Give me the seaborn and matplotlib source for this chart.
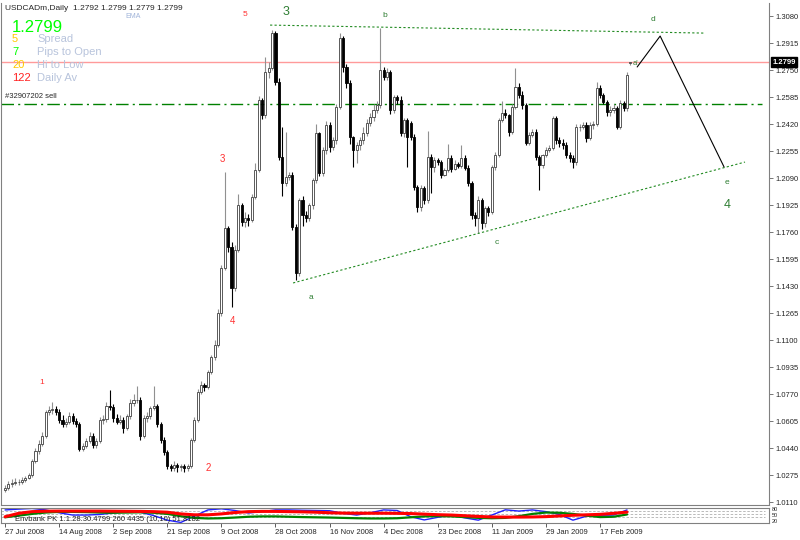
import numpy as np
import pandas as pd
import seaborn as sns
import matplotlib.pyplot as plt

# daily USDCAD candles, 27 Jul 2008 .. 27 Feb 2009
opens = [1.0185, 1.0196, 1.0221, 1.0227, 1.0233, 1.0233, 1.0245, 1.0257, 1.0276, 1.0361,
         1.0422, 1.0465, 1.0514, 1.0661, 1.0673, 1.0679, 1.0661, 1.0612, 1.0587, 1.0600,
         1.0636, 1.0606, 1.0587, 1.0435, 1.0453, 1.0483, 1.0514, 1.0459, 1.0483, 1.0612,
         1.0618, 1.0697, 1.0691, 1.0624, 1.0600, 1.0612, 1.0563, 1.0636, 1.0716, 1.0734,
         1.0734, 1.0514, 1.0624, 1.0636, 1.0685, 1.0697, 1.0587, 1.0490, 1.0416, 1.0331,
         1.0318, 1.0337, 1.0325, 1.0331, 1.0318, 1.0331, 1.0490, 1.0612, 1.0783, 1.0826,
         1.0813, 1.0905, 1.0997, 1.1070, 1.1266, 1.1541, 1.1785, 1.1669, 1.1418, 1.1651,
         1.1925, 1.1822, 1.1846, 1.1834, 1.1974, 1.2139, 1.2567, 1.2475, 1.2738, 1.2763,
         1.2976, 1.2677, 1.2219, 1.2060, 1.2097, 1.2109, 1.1791, 1.1510, 1.1956, 1.1864,
         1.1846, 1.1925, 1.2078, 1.2365, 1.2121, 1.2262, 1.2414, 1.2280, 1.2323, 1.2524,
         1.2946, 1.2769, 1.2671, 1.2341, 1.2262, 1.2292, 1.2323, 1.2365, 1.2427, 1.2463,
         1.2506, 1.2536, 1.2750, 1.2708, 1.2738, 1.2506, 1.2585, 1.2567, 1.2365, 1.2445,
         1.2427, 1.2341, 1.2035, 1.1913, 1.2029, 1.1956, 1.2219, 1.2158, 1.2200, 1.2188,
         1.2109, 1.2139, 1.2213, 1.2145, 1.2176, 1.2164, 1.2213, 1.2152, 1.2060, 1.1864,
         1.1846, 1.1956, 1.1815, 1.1907, 1.1883, 1.2158, 1.2231, 1.2445, 1.2488, 1.2475,
         1.2372, 1.2524, 1.2646, 1.2598, 1.2536, 1.2304, 1.2353, 1.2372, 1.2219, 1.2170,
         1.2231, 1.2262, 1.2274, 1.2457, 1.2323, 1.2304, 1.2292, 1.2231, 1.2213, 1.2188,
         1.2402, 1.2402, 1.2414, 1.2335, 1.2414, 1.2420, 1.2640, 1.2598, 1.2555, 1.2494,
         1.2506, 1.2518, 1.2402, 1.2549, 1.2518, 1.2792]
highs = [1.0215, 1.0240, 1.0250, 1.0255, 1.0250, 1.0262, 1.0270, 1.0290, 1.0375, 1.0440,
         1.0490, 1.0540, 1.0670, 1.0700, 1.0722, 1.0700, 1.0680, 1.0640, 1.0625, 1.0660,
         1.0655, 1.0625, 1.0600, 1.0470, 1.0500, 1.0540, 1.0530, 1.0500, 1.0630, 1.0640,
         1.0720, 1.0795, 1.0710, 1.0650, 1.0640, 1.0630, 1.0650, 1.0740, 1.0770, 1.0820,
         1.0750, 1.0640, 1.0660, 1.0700, 1.0820, 1.0710, 1.0600, 1.0510, 1.0430, 1.0345,
         1.0360, 1.0350, 1.0345, 1.0345, 1.0340, 1.0500, 1.0630, 1.0800, 1.0850, 1.0835,
         1.0920, 1.1010, 1.1100, 1.1290, 1.1560, 1.2127, 1.1800, 1.1700, 1.1680, 1.1990,
         1.1940, 1.1880, 1.1870, 1.1995, 1.2180, 1.2590, 1.2580, 1.2830, 1.2800, 1.2995,
         1.2990, 1.2700, 1.2400, 1.2370, 1.2130, 1.2130, 1.1810, 1.1970, 1.1980, 1.1890,
         1.1940, 1.2090, 1.2420, 1.2370, 1.2280, 1.2440, 1.2430, 1.2340, 1.2540, 1.2976,
         1.2960, 1.2790, 1.2690, 1.2350, 1.2310, 1.2340, 1.2400, 1.2450, 1.2490, 1.2540,
         1.2560, 1.3007, 1.2770, 1.2760, 1.2750, 1.2600, 1.2600, 1.2590, 1.2460, 1.2460,
         1.2440, 1.2360, 1.2050, 1.2050, 1.2040, 1.2380, 1.2240, 1.2220, 1.2210, 1.2200,
         1.2150, 1.2300, 1.2230, 1.2200, 1.2190, 1.2290, 1.2230, 1.2170, 1.2070, 1.1880,
         1.1980, 1.1970, 1.1920, 1.1920, 1.2170, 1.2250, 1.2460, 1.2560, 1.2510, 1.2480,
         1.2540, 1.2762, 1.2670, 1.2620, 1.2550, 1.2370, 1.2390, 1.2390, 1.2230, 1.2240,
         1.2280, 1.2290, 1.2470, 1.2470, 1.2340, 1.2330, 1.2310, 1.2250, 1.2230, 1.2420,
         1.2420, 1.2430, 1.2430, 1.2430, 1.2440, 1.2680, 1.2660, 1.2610, 1.2570, 1.2530,
         1.2540, 1.2530, 1.2570, 1.2560, 1.2740, 1.2799]
lows = [1.0170, 1.0185, 1.0205, 1.0212, 1.0215, 1.0220, 1.0235, 1.0250, 1.0265, 1.0350,
        1.0405, 1.0450, 1.0500, 1.0640, 1.0650, 1.0645, 1.0595, 1.0570, 1.0570, 1.0590,
        1.0590, 1.0570, 1.0420, 1.0420, 1.0440, 1.0470, 1.0440, 1.0440, 1.0470, 1.0590,
        1.0600, 1.0670, 1.0600, 1.0590, 1.0585, 1.0530, 1.0550, 1.0620, 1.0700, 1.0715,
        1.0490, 1.0500, 1.0600, 1.0620, 1.0670, 1.0570, 1.0470, 1.0400, 1.0310, 1.0300,
        1.0300, 1.0295, 1.0300, 1.0294, 1.0300, 1.0320, 1.0480, 1.0600, 1.0770, 1.0790,
        1.0800, 1.0890, 1.0980, 1.1060, 1.1250, 1.1530, 1.1640, 1.1302, 1.1400, 1.1640,
        1.1800, 1.1790, 1.1800, 1.1820, 1.1960, 1.2130, 1.2450, 1.2460, 1.2700, 1.2750,
        1.2660, 1.2200, 1.1980, 1.2040, 1.2080, 1.1770, 1.1467, 1.1490, 1.1800, 1.1820,
        1.1830, 1.1900, 1.2060, 1.2100, 1.2100, 1.2240, 1.2250, 1.2260, 1.2300, 1.2510,
        1.2740, 1.2640, 1.2300, 1.2160, 1.2180, 1.2260, 1.2300, 1.2350, 1.2410, 1.2440,
        1.2490, 1.2520, 1.2690, 1.2690, 1.2480, 1.2490, 1.2540, 1.2350, 1.2340, 1.2160,
        1.2320, 1.2020, 1.1880, 1.1890, 1.1930, 1.1940, 1.2000, 1.2130, 1.2170, 1.2090,
        1.2100, 1.2130, 1.2130, 1.2140, 1.2150, 1.2150, 1.2140, 1.2040, 1.1840, 1.1800,
        1.1754, 1.1780, 1.1790, 1.1860, 1.1870, 1.2140, 1.2220, 1.2430, 1.2460, 1.2350,
        1.2360, 1.2510, 1.2580, 1.2510, 1.2290, 1.2290, 1.2340, 1.2200, 1.2017, 1.2150,
        1.2220, 1.2250, 1.2260, 1.2300, 1.2280, 1.2270, 1.2210, 1.2190, 1.2150, 1.2170,
        1.2380, 1.2390, 1.2310, 1.2320, 1.2390, 1.2410, 1.2580, 1.2540, 1.2470, 1.2470,
        1.2490, 1.2390, 1.2390, 1.2500, 1.2500, 1.2779]
closes = [1.0196, 1.0221, 1.0227, 1.0233, 1.0233, 1.0245, 1.0257, 1.0276, 1.0361, 1.0422,
          1.0465, 1.0514, 1.0661, 1.0673, 1.0679, 1.0661, 1.0612, 1.0587, 1.0600, 1.0636,
          1.0606, 1.0587, 1.0435, 1.0453, 1.0483, 1.0514, 1.0459, 1.0483, 1.0612, 1.0618,
          1.0697, 1.0691, 1.0624, 1.0600, 1.0612, 1.0563, 1.0636, 1.0716, 1.0734, 1.0734,
          1.0514, 1.0624, 1.0636, 1.0685, 1.0697, 1.0587, 1.0490, 1.0416, 1.0331, 1.0318,
          1.0337, 1.0325, 1.0331, 1.0318, 1.0331, 1.0490, 1.0612, 1.0783, 1.0826, 1.0813,
          1.0905, 1.0997, 1.1070, 1.1266, 1.1541, 1.1785, 1.1669, 1.1418, 1.1651, 1.1925,
          1.1822, 1.1846, 1.1834, 1.1974, 1.2139, 1.2567, 1.2475, 1.2738, 1.2763, 1.2976,
          1.2677, 1.2219, 1.2060, 1.2097, 1.2109, 1.1791, 1.1510, 1.1956, 1.1864, 1.1846,
          1.1925, 1.2078, 1.2365, 1.2121, 1.2262, 1.2414, 1.2280, 1.2323, 1.2524, 1.2946,
          1.2769, 1.2671, 1.2341, 1.2262, 1.2292, 1.2323, 1.2365, 1.2427, 1.2463, 1.2506,
          1.2536, 1.2750, 1.2708, 1.2738, 1.2506, 1.2585, 1.2567, 1.2365, 1.2445, 1.2341,
          1.2341, 1.2035, 1.1913, 1.2029, 1.1956, 1.2219, 1.2158, 1.2200, 1.2188, 1.2109,
          1.2139, 1.2213, 1.2145, 1.2176, 1.2164, 1.2213, 1.2152, 1.2060, 1.1864, 1.1846,
          1.1956, 1.1815, 1.1907, 1.1883, 1.2158, 1.2231, 1.2445, 1.2488, 1.2475, 1.2372,
          1.2524, 1.2646, 1.2598, 1.2536, 1.2304, 1.2353, 1.2372, 1.2219, 1.2170, 1.2231,
          1.2262, 1.2274, 1.2457, 1.2323, 1.2304, 1.2292, 1.2231, 1.2213, 1.2188, 1.2402,
          1.2402, 1.2414, 1.2335, 1.2414, 1.2420, 1.2640, 1.2598, 1.2555, 1.2494, 1.2506,
          1.2518, 1.2402, 1.2549, 1.2518, 1.2720, 1.2799]

date_labels = ['27 Jul 2008', '14 Aug 2008', '2 Sep 2008', '21 Sep 2008', '9 Oct 2008',
               '28 Oct 2008', '16 Nov 2008', '4 Dec 2008', '23 Dec 2008', '11 Jan 2009',
               '29 Jan 2009', '17 Feb 2009']
date_bars = [0, 16, 32, 48, 64, 80, 96, 112, 128, 144, 160, 176]

price_ticks = [1.0110, 1.0275, 1.0440, 1.0605, 1.0770, 1.0935, 1.1100, 1.1265, 1.1430,
               1.1595, 1.1760, 1.1925, 1.2090, 1.2255, 1.2420, 1.2585, 1.2750, 1.2915, 1.3080]

# oscillator sub-window, one sample every 4 bars
osc_bars = list(range(0, 186, 4))
osc_red = [25, 55, 70, 74, 75, 75, 75, 75, 74, 73, 72, 70, 65, 50, 42, 42, 50, 62, 70, 72,
           72, 70, 68, 65, 60, 57, 56, 56, 56, 55, 53, 48, 43, 40, 34, 28, 23, 22, 22, 23,
           26, 32, 38, 42, 46, 55, 66]
osc_green = [20, 35, 50, 62, 68, 68, 66, 62, 60, 62, 64, 60, 50, 30, 15, 10, 12, 18, 25, 28,
             28, 25, 22, 20, 18, 15, 12, 10, 10, 12, 20, 28, 30, 28, 22, 15, 12, 15, 30, 50,
             62, 60, 50, 35, 22, 25, 45]
osc_blue = [85, 92, 98, 85, 60, 40, 40, 45, 58, 68, 65, 35, -5, -25, 30, 85, 95, 80, 58, 70,
            85, 85, 82, 80, 78, 55, 40, 60, 85, 80, 25, -3, 20, 40, 15, -5, 40, 86, 75, 85,
            70, 45, -5, 30, 38, 40, 85]
osc_levels = [80, 50, 20]

last_price = 1.2799
order_price = 1.2543

df = pd.DataFrame({'open': opens, 'high': highs, 'low': lows, 'close': closes})
df['bar'] = np.arange(len(df))
up = df[df.close >= df.open]
down = df[df.close < df.open]

sns.set_style("white")
plt.rcParams['font.family'] = ['Liberation Sans', 'DejaVu Sans']

fig = plt.figure(figsize=(8, 5.4), dpi=100)
ax = fig.add_axes([1 / 800, 1 - 505 / 540, 768 / 800, 502 / 540])
ax2 = fig.add_axes([1 / 800, 1 - 523 / 540, 768 / 800, 15 / 540])

xmin, xmax = -1.2, 226
ax.set_xlim(xmin, xmax)
ax.set_ylim(1.0092, 1.3160)

# candles
ax.vlines(up.bar, up.low, up.high, color='#909090', lw=0.8, zorder=2)
ax.vlines(down.bar, down.low, down.high, color='black', lw=0.8, zorder=2)
ax.bar(up.bar, up.close - up.open, bottom=up.open, width=0.62, color='white',
       edgecolor='#404040', lw=0.6, zorder=3)
ax.bar(down.bar, down.close - down.open, bottom=down.open, width=0.62, color='black',
       edgecolor='black', lw=0.6, zorder=3)

# price lines
ax.axhline(last_price, color='#ff9a9a', lw=1, zorder=1)
ax.plot([xmin, 224], [order_price, order_price], color='#008000', lw=1,
        dashes=(9, 3, 1.5, 3), zorder=1)
ax.text(4 / 768, order_price + 0.0025, '#32907202 sell', transform=ax.get_yaxis_transform(),
        fontsize=5.5, va='bottom')

# wave trend lines
ax.plot([78.4, 207.1], [1.3025, 1.2976], color='#228b22', lw=0.8, ls=(0, (2, 2)))
ax.plot([85.2, 218.9], [1.1449, 1.2188], color='#228b22', lw=0.8, ls=(0, (2, 2)))
ax.plot([187, 193.8, 212.7], [1.2769, 1.2958, 1.2158], color='black', lw=0.8)

# wave labels
green = '#2e7d32'
red = '#ff3030'
for x, y, s, c, fs in [(71, 1.3092, '5', red, 6), (83.1, 1.3105, '3', green, 9),
                       (112.4, 1.3086, 'b', green, 6), (191.7, 1.3062, 'd', green, 6),
                       (90.5, 1.1363, 'a', green, 6), (145.6, 1.1699, 'c', green, 6),
                       (213.6, 1.2060, 'e', green, 6), (213.6, 1.1925, '4', green, 9),
                       (186.5, 1.2790, "a'", green, 5.5),
                       (10.9, 1.0838, '1', red, 6), (60, 1.0319, '2', red, 7),
                       (64.2, 1.2207, '3', red, 7), (67.2, 1.1217, '4', red, 7)]:
    ax.text(x, y, s, color=c, fontsize=fs, ha='center', va='center')

# right price scale
ax.yaxis.tick_right()
ax.set_yticks(price_ticks)
ax.set_yticklabels([f'{p:.4f}' for p in price_ticks])
ax.tick_params(axis='y', labelsize=5.5, length=3, width=0.6, color='#606060', pad=2,
               direction='out', right=True)
ax.set_xticks([])
for s in ax.spines.values():
    s.set_color('#808080')
    s.set_linewidth(0.8)
ax.spines['top'].set_visible(False)
ax.text(1.004, last_price, '1.2799', transform=ax.get_yaxis_transform(), fontsize=5.5,
        color='white', va='center', ha='left', fontweight='bold',
        bbox=dict(boxstyle='square,pad=0.15', fc='black', ec='black'))

# oscillator window
osc = pd.DataFrame({'bar': osc_bars, 'red': osc_red, 'green': osc_green, 'blue': osc_blue})
ax2.set_xlim(xmin, xmax)
ax2.set_ylim(-30, 102)
for lvl in osc_levels:
    ax2.axhline(lvl, color='#b0b0b0', lw=0.6, ls=(0, (3, 2)), xmax=0.995)
sns.lineplot(data=osc, x='bar', y='blue', ax=ax2, color='#2020ff', lw=1)
sns.lineplot(data=osc, x='bar', y='green', ax=ax2, color='#008000', lw=1.6)
sns.lineplot(data=osc, x='bar', y='red', ax=ax2, color='#ff0000', lw=2.2)
ax2.text(3, 5, 'Envbank PK 1.1.28.30.4799 260 4435 (10,10) 51.8182', fontsize=5.5,
         color='#202020', va='center')
ax2.set_xlabel('')
ax2.set_ylabel('')
ax2.set_yticks([])
# level labels, stacked just right of the window
for lvl, yy in zip(osc_levels, [93, 40, -13]):
    ax2.text(1.004, yy, str(lvl), transform=ax2.get_yaxis_transform(), fontsize=4,
             va='center', ha='left')
ax2.set_xticks(date_bars)
ax2.set_xticklabels(date_labels, ha='left')
ax2.tick_params(axis='x', labelsize=5.5, length=3, width=0.6, color='#404040', pad=1,
                direction='out', bottom=True)
for s in ax2.spines.values():
    s.set_color('#808080')
    s.set_linewidth(0.8)

# header block
fig.text(5 / 800, 1 - 8 / 540, 'USDCADm,Daily  1.2792 1.2799 1.2779 1.2799', fontsize=6,
         va='center')
fig.text(125 / 800, 1 - 16 / 540, 'EMA', fontsize=5, color='#9fb3d9', va='center')
fig.text(12 / 800, 1 - 27 / 540, '1.2799', fontsize=12, color='#00ff00', va='center')
for yy, num, col, lab in [(39, '5', '#ffc800', 'Spread'), (52, '7', '#00ff00', 'Pips to Open'),
                          (65, '20', '#ffc800', 'Hi to Low'), (78, '122', '#ff2020', 'Daily Av')]:
    fig.text(12 / 800, 1 - yy / 540, num, fontsize=8, color=col, va='center')
    fig.text(37 / 800, 1 - yy / 540, lab, fontsize=8, color='#b8c4dc', va='center')

fig.savefig('out.png', dpi=100, facecolor='white')
